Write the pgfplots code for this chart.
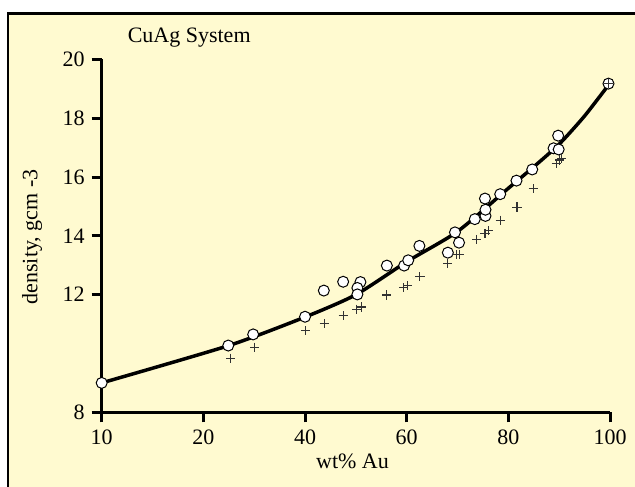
\documentclass[border=0pt]{standalone}
\usepackage{pgfplots}
\pgfplotsset{compat=1.18}
\usepackage{fontspec}
\setmainfont{Liberation Serif}
\definecolor{cream}{RGB}{255,250,208}
\definecolor{plusgray}{RGB}{50,50,50}

\begin{document}
\begin{tikzpicture}
% page = 635x486 px at 0.5pt per px; axis origin sits at px (101.7,412.3)
\useasboundingbox (-50.85pt,-36.85pt) rectangle (266.65pt,206.15pt);
\fill[white] (-50.85pt,-36.85pt) rectangle (266.65pt,206.15pt);
\filldraw[fill=cream, draw=black, line width=1.35pt] (-46.85pt,-60pt) rectangle (290pt,199.4pt);
\begin{axis}[
  scale only axis,
  width=254.15pt, height=176.4pt,
  xmin=0, xmax=100, ymin=8, ymax=20,
  axis x line*=bottom, axis y line*=left,
  axis line style={line width=1.5pt},
  every tick/.style={black, line width=1.5pt},
  tick align=outside, major tick length=5pt,
  xtick={0,20,40,60,80,100},
  xticklabels={10,20,40,60,80,100},
  ytick={8,12,14,16,18,20},
  /pgf/number format/assume math mode=true,
  tick label style={font=\fontsize{11}{13}\selectfont},
  clip=false,
]
\addplot[black, line width=1.75pt, smooth, tension=0.4] coordinates {
  (0,9.0)(25,10.27)(40,11.24)(50,12.0)(60,13.12)(70,14.15)(80,15.62)(85,16.35)(90,17.12)(95,18.08)(100,19.2)
};
\addplot[only marks, mark=*, mark size=2.75pt,
  mark options={fill=white, draw=black, line width=0.5pt}] coordinates {
  (0,9.0)(24.9,10.27)(29.8,10.65)(40.0,11.25)(43.7,12.14)(47.5,12.44)
  (50.9,12.43)(50.3,12.23)(50.3,12.01)(56.1,12.99)(59.5,12.99)(60.3,13.17)
  (62.5,13.66)(68.1,13.43)(69.5,14.12)(70.3,13.77)(73.4,14.57)(75.5,14.68)
  (75.5,14.89)(75.4,15.27)(78.4,15.42)(81.6,15.88)(84.7,16.26)(88.9,16.98)
  (89.9,16.94)(89.8,17.41)(99.7,19.18)
};
\addplot[only marks, mark=+, mark size=2.3pt,
  mark options={draw=plusgray, line width=0.55pt}] coordinates {
  (25.4,9.84)(30.1,10.21)(40.1,10.77)(43.8,11.01)(47.5,11.28)(50.2,11.51)
  (51.1,11.58)(56.1,11.99)(59.4,12.24)(60.2,12.30)(62.6,12.61)(68.1,13.07)
  (69.8,13.36)(70.4,13.37)(73.8,13.88)(75.4,14.07)(76.1,14.18)(78.4,14.53)
  (81.7,14.98)(84.9,15.60)(89.4,16.47)(90.1,16.58)(90.5,16.62)(99.7,19.18)
};
\end{axis}
\node[anchor=base west, font=\fontsize{11}{13}\selectfont] at (9.5pt,184.8pt) {CuAg System};
\node[font=\fontsize{11}{13}\selectfont] at (125.4pt,-24.7pt) {wt\% Au};
\node[rotate=90, font=\fontsize{11}{13}\selectfont] at (-34.85pt,87.65pt) {density, gcm -3};
\end{tikzpicture}
\end{document}
